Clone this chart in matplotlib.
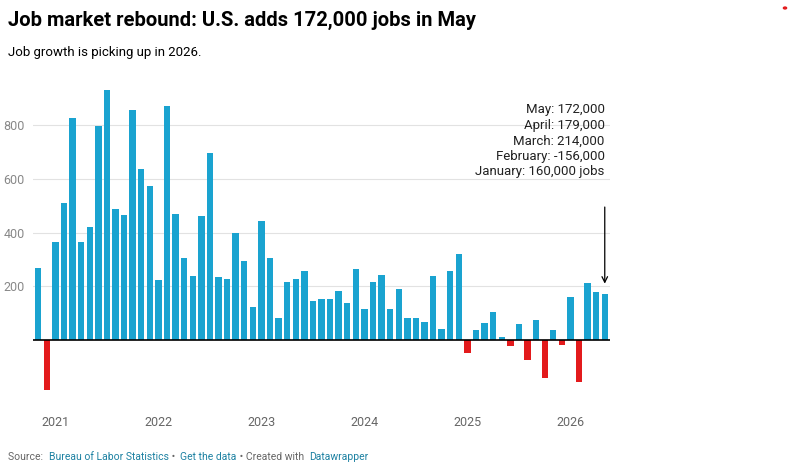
import matplotlib.pyplot as plt
import numpy as np

plt.rcParams["font.family"] = ["Roboto", "DejaVu Sans"]

# monthly job change, thousands, Nov 2020 .. May 2026
jobs = [267, -186, 364, 509, 824, 364, 421, 797, 930, 486, 465, 856,
        636, 573, 223, 870, 470, 304, 239, 460, 696, 234, 226, 398,
        295, 124, 443, 304, 83, 215, 226, 256, 146, 155, 155, 184,
        138, 265, 116, 218, 243, 115, 190, 84, 84, 69, 237, 42,
        258, 320, -49, 40, 64, 106, 11, -21, 62, -72, 74, -141,
        40, -19, 160, -156, 214, 179, 172]
x = np.arange(len(jobs))
colors = ["#1aa3d0" if v >= 0 else "#e31a1c" for v in jobs]

fig = plt.figure(figsize=(7.88, 4.76), dpi=100)
ax = fig.add_axes([0.042, 0.155, 0.732, 0.662])
ax.bar(x, jobs, width=0.74, color=colors, zorder=2)
ax.axhline(0, color="black", lw=1.2, zorder=3)
ax.set_xlim(-0.6, len(jobs) - 0.4)
ax.set_ylim(-230, 940)
ax.set_yticks([200, 400, 600, 800])
ax.yaxis.grid(True, color="#e2e2e2", lw=0.8, zorder=0)
ax.set_xticks([2, 14, 26, 38, 50, 62])
ax.set_xticklabels(["2021", "2022", "2023", "2024", "2025", "2026"])
ax.tick_params(axis="both", length=0, labelsize=9, colors="#888888")
ax.tick_params(axis="x", pad=10, labelcolor="#666666")
ax.tick_params(axis="y", pad=6)
for s in ax.spines.values():
    s.set_visible(False)

ax.text(len(jobs) - 1, 880,
        "May: 172,000\nApril: 179,000\nMarch: 214,000\nFebruary: -156,000\nJanuary: 160,000 jobs",
        ha="right", va="top", fontsize=9.5, color="#222222", linespacing=1.25)
ax.annotate("", xy=(len(jobs) - 1, 200), xytext=(len(jobs) - 1, 505),
            arrowprops=dict(arrowstyle="->", color="black", lw=0.9))

fig.text(0.01, 0.958, "Job market rebound: U.S. adds 172,000 jobs in May",
         fontsize=14.5, fontweight="bold", va="center")
fig.text(0.01, 0.89, "Job growth is picking up in 2026.", fontsize=9.5, va="center")

parts = [("Source: ", "#666666"), ("Bureau of Labor Statistics", "#1d81a2"),
         (" • ", "#666666"), ("Get the data", "#1d81a2"),
         (" • Created with ", "#666666"), ("Datawrapper", "#1d81a2")]
renderer = fig.canvas.get_renderer()
px = 8
for t, c in parts:
    txt = fig.text(px / 788, 1 - 457 / 476, t, color=c, fontsize=7.5, va="center")
    px += txt.get_window_extent(renderer).width + (3 if t.endswith(" ") else 0)
fig.add_artist(plt.Circle((785 / 788, 1 - 8 / 476), 0.002, color="#e31a1c",
                          transform=fig.transFigure))

fig.savefig("out.png", dpi=100)
